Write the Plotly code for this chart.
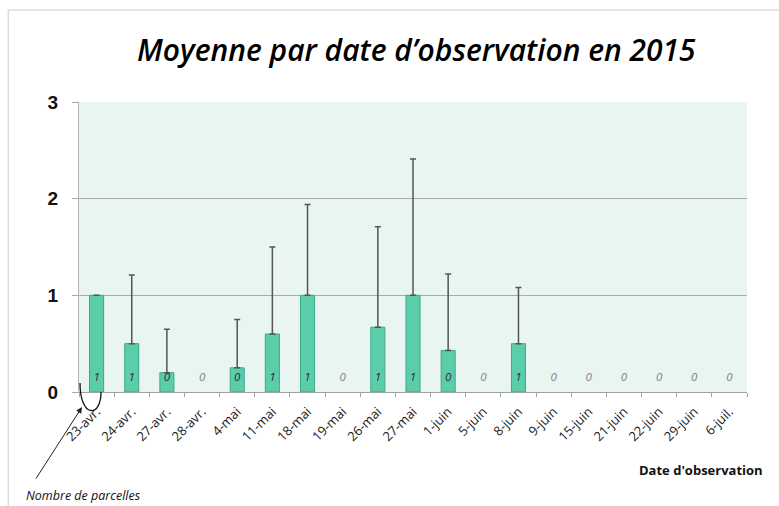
import plotly.graph_objects as go

dates = ["23-avr.", "24-avr.", "27-avr.", "28-avr.", "4-mai", "11-mai", "18-mai", "19-mai",
         "26-mai", "27-mai", "1-juin", "5-juin", "8-juin", "9-juin", "15-juin", "21-juin",
         "22-juin", "29-juin", "6-juil."]
moyenne = [1.0, 0.5, 0.2, 0, 0.25, 0.6, 1.0, 0, 0.67, 1.0, 0.43, 0, 0.5, 0, 0, 0, 0, 0, 0]
ecart = [0, 0.71, 0.45, None, 0.5, 0.9, 0.94, None, 1.04, 1.41, 0.79, None, 0.58,
         None, None, None, None, None, None]
nb_parcelles = [1, 1, 0, 0, 0, 1, 1, 0, 1, 1, 0, 0, 1, 0, 0, 0, 0, 0, 0]
y_ticks = [0, 1, 2, 3]

label_y = 0.14

fig = go.Figure()
fig.add_trace(go.Bar(
    x=dates, y=[m if m > 0 else None for m in moyenne], width=0.4,
    marker=dict(color="#5ccdab", line=dict(color="#3aaa88", width=1)),
    error_y=dict(type="data", array=ecart, symmetric=False,
                 arrayminus=[0 if e is not None else None for e in ecart],
                 visible=True, color="#555555", thickness=1.5, width=3),
    showlegend=False, hoverinfo="x+y",
))
fig.add_trace(go.Scatter(
    x=dates, y=[label_y] * len(dates), mode="text",
    text=[str(n) for n in nb_parcelles],
    textfont=dict(family="Open Sans", size=11.5, style="italic",
                  color=["#2a2a2a" if m > 0 else "#808080" for m in moyenne]),
    showlegend=False, hoverinfo="skip",
))

fig.update_layout(
    width=779, height=506,
    margin=dict(l=79, r=32, t=102, b=114),
    paper_bgcolor="white", plot_bgcolor="#e8f5f0",
    xaxis=dict(
        type="category", tickangle=-45, showgrid=False, automargin=False,
        range=[-0.5, len(dates) - 0.5],
        ticks="outside", tickson="boundaries", ticklen=4, tickcolor="#a0a0a0",
        ticklabelstandoff=6,
        showline=True, linecolor="#a0a0a0", linewidth=1,
        tickfont=dict(family="Open Sans", size=13, color="#222222"),
    ),
    yaxis=dict(
        range=[0, 3], tickvals=y_ticks, ticktext=[str(v) for v in y_ticks], automargin=False,
        showgrid=True, gridcolor="#aaaaaa", gridwidth=1, zeroline=False,
        ticks="outside", ticklen=6, tickcolor="#aaaaaa", ticklabelstandoff=10,
        showline=True, linecolor="#b5b5b5", linewidth=1,
        tickfont=dict(family="Liberation Sans", size=19, color="#111111", weight="bold"),
    ),
    font=dict(family="Open Sans"),
    annotations=[
        dict(text="Moyenne par date d’observation en 2015", xref="paper", yref="paper",
             x=0.505, y=1.18, xanchor="center", yanchor="middle", showarrow=False,
             font=dict(family="Open Sans", size=30, color="#000000", style="italic", weight=600)),
        dict(text="Date d'observation", xref="paper", yref="paper",
             x=1.027, y=-0.269, xanchor="right", yanchor="middle", showarrow=False,
             font=dict(family="Open Sans", size=13, color="#111111", weight="bold")),
        dict(text="Nombre de parcelles", xref="paper", yref="paper",
             x=-0.082, y=-0.358, xanchor="left", yanchor="middle", showarrow=False,
             font=dict(family="Open Sans", size=12.5, color="#111111", style="italic")),
        dict(text="", xref="paper", yref="paper", x=0.0045, y=-0.052,
             showarrow=True, arrowhead=2, arrowsize=1.2, arrowwidth=1, arrowcolor="#222222",
             ax=-47, ay=73),
    ],
    shapes=[
        dict(type="path", xref="paper", yref="paper",
             path="M 0.0015,0.031 C 0.0015,-0.09 0.033,-0.09 0.033,0",
             line=dict(color="#111111", width=1.3)),
        dict(type="rect", xref="paper", yref="paper", x0=-0.106, y0=-0.6, x1=1.2, y1=1.317,
             line=dict(color="#cccccc", width=1), layer="below"),
    ],
)

fig.write_html("out.html", config={"displayModeBar": False},
               post_script="document.body.style.margin='0';")
